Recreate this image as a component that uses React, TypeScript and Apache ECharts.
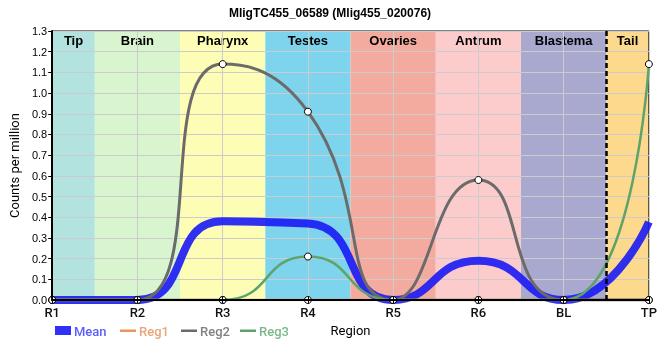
import { useEffect, useRef } from 'react';
import * as echarts from 'echarts';

const titleText = 'MligTC455_06589 (Mlig455_020076)';
const regions = ['R1', 'R2', 'R3', 'R4', 'R5', 'R6', 'BL', 'TP'];
const meanValues = [0, 0, 0.38, 0.37, 0, 0.19, 0, 0.377];
const reg1Values = [0, 0, 0, 0, 0, 0, 0, 0];
const reg2Values = [0, 0, 1.14, 0.91, 0, 0.58, 0, 0];
const reg3Values = [0, 0, 0, 0.21, 0, 0, 0, 1.14];
const bandNames = ['Tip', 'Brain', 'Pharynx', 'Testes', 'Ovaries', 'Antrum', 'Blastema', 'Tail'];
const bandColors = ['#b3e3df', '#d8f5d0', '#fefdb6', '#7dd4ec', '#f3ab9f', '#fccbcc', '#a9a8cf', '#fcd98c'];
const seriesNames = ['Mean', 'Reg1', 'Reg2', 'Reg3'];
const seriesColors = ['rgba(25,25,245,0.9)', '#e8955e', '#6b6b6b', '#5fa36a'];
const legendTextColors = ['#5c5cff', '#eba57a', '#808086', '#7cb88a'];
const yMax = 1.3;
const xMax = regions.length - 1;

const pts = (vals: number[]) => vals.map((v, i) => [i, v]);

export default function App() {
  const ref = useRef<HTMLDivElement>(null);
  useEffect(() => {
    const chart = echarts.init(ref.current!, null, { renderer: 'svg' });
    const regSeries = [reg1Values, reg2Values, reg3Values].map((vals, k) => ({
      name: seriesNames[k + 1],
      type: 'line',
      data: pts(vals),
      smooth: 0.55,
      z: 3,
      symbol: 'circle',
      symbolSize: 7,
      showSymbol: true,
      lineStyle: { color: seriesColors[k + 1], width: k === 1 ? 3 : 2.5 },
      itemStyle: { color: '#ffffff', borderColor: '#000000', borderWidth: 1 },
      ...(k === 2
        ? {
            markLine: {
              silent: true,
              symbol: 'none',
              label: { show: false },
              lineStyle: { color: '#000', type: [5, 3], width: 2.5 },
              data: [{ xAxis: xMax - 0.5 }],
            },
          }
        : {}),
    }));

    const legendGraphics: any[] = [];
    const lx = [55, 120, 181, 240];
    seriesNames.forEach((n, k) => {
      if (k === 0) {
        legendGraphics.push({ type: 'rect', shape: { x: lx[k], y: 326, width: 16, height: 9 }, style: { fill: seriesColors[0] } });
      } else {
        legendGraphics.push({ type: 'rect', shape: { x: lx[k], y: 329.5, width: 16, height: 2.5 }, style: { fill: seriesColors[k] } });
      }
      legendGraphics.push({
        type: 'text',
        x: lx[k] + 19,
        y: 331,
        style: { text: n, fill: legendTextColors[k], fontSize: 13, fontFamily: 'Roboto', fontWeight: 500, verticalAlign: 'middle' },
      });
    });

    const option: any = {
      animation: false,
      title: {
        text: titleText,
        left: 'center',
        top: 2,
        textStyle: { fontSize: 12, fontWeight: 'bold', fontFamily: 'Liberation Sans, Arial', color: '#000' },
      },
      grid: { left: 50, right: 10, top: 31, bottom: 60, show: true, borderColor: '#000', borderWidth: 1, backgroundColor: 'transparent' },
      xAxis: [
        {
          type: 'value', min: 0, max: xMax, interval: 1,
          axisLine: { show: false }, axisTick: { show: false },
          axisLabel: { formatter: (v: number) => regions[v] ?? '', color: '#111', fontSize: 13, fontFamily: 'Roboto', fontWeight: 500, margin: 6 },
          splitLine: { show: true, lineStyle: { color: '#cccccc', width: 1 } },
          name: 'Region', nameLocation: 'middle', nameGap: 24,
          nameTextStyle: { color: '#000', fontSize: 13, fontFamily: 'Roboto' },
        },
        {
          type: 'value', min: 0, max: xMax, interval: 1, position: 'bottom', z: 10,
          axisLine: { show: true, lineStyle: { color: '#000', width: 2 } },
          axisTick: { show: true, length: 3, lineStyle: { color: '#000', width: 1 } },
          axisLabel: { show: false }, splitLine: { show: false },
        },
        {
          type: 'value', min: 0, max: xMax, interval: 1, position: 'bottom', z: 10,
          axisLine: { show: false },
          axisTick: { show: true, inside: true, length: 3, lineStyle: { color: '#000', width: 1 } },
          axisLabel: { show: false }, splitLine: { show: false },
        },
      ],
      yAxis: [
        {
          type: 'value', min: 0, max: yMax, interval: 0.1,
          axisLine: { show: false },
          axisTick: { show: true, length: 4, lineStyle: { color: '#000' } },
          axisLabel: { formatter: (v: number) => v.toFixed(1), color: '#000', fontSize: 11, fontFamily: 'Liberation Sans, Arial', margin: 5 },
          splitLine: { show: true, lineStyle: { color: '#cccccc', width: 1 } },
          name: 'Counts per million', nameLocation: 'middle', nameGap: 29,
          nameTextStyle: { color: '#000', fontSize: 13, fontFamily: 'Roboto' },
        },
        {
          type: 'value', min: 0, max: yMax, position: 'left', z: 10,
          axisLine: { show: true, lineStyle: { color: '#000', width: 2 } },
          axisTick: { show: false }, axisLabel: { show: false }, splitLine: { show: false },
        },
      ],
      graphic: legendGraphics,
      series: [
        {
          type: 'custom',
          z: -1,
          silent: true,
          data: bandNames.map((_, i) => [i]),
          renderItem: (params: any, api: any) => {
            const i = api.value(0);
            const x0 = Math.max(0, i - 0.5);
            const x1 = Math.min(xMax, i + 0.5);
            const p0 = api.coord([x0, yMax]);
            const p1 = api.coord([x1, 0]);
            return {
              type: 'group',
              children: [
                { type: 'rect', shape: { x: p0[0], y: p0[1], width: p1[0] - p0[0], height: p1[1] - p0[1] }, style: { fill: bandColors[i] } },
                {
                  type: 'text', x: (p0[0] + p1[0]) / 2, y: p0[1] + 9,
                  style: { text: bandNames[i], fill: '#000', fontSize: 13, fontWeight: 'bold', fontFamily: 'Liberation Sans, Arial', align: 'center', verticalAlign: 'middle' },
                },
              ],
            };
          },
        },
        {
          name: 'Mean',
          type: 'line',
          data: pts(meanValues),
          smooth: 0.55,
          z: 2,
          showSymbol: false,
          symbol: 'none',
          lineStyle: { color: seriesColors[0], width: 8 },
        },
        ...regSeries,
      ],
    };
    chart.setOption(option);
    return () => chart.dispose();
  }, []);
  return <div ref={ref} style={{ position: 'fixed', left: 0, top: 0, width: 660, height: 360 }} />;
}
